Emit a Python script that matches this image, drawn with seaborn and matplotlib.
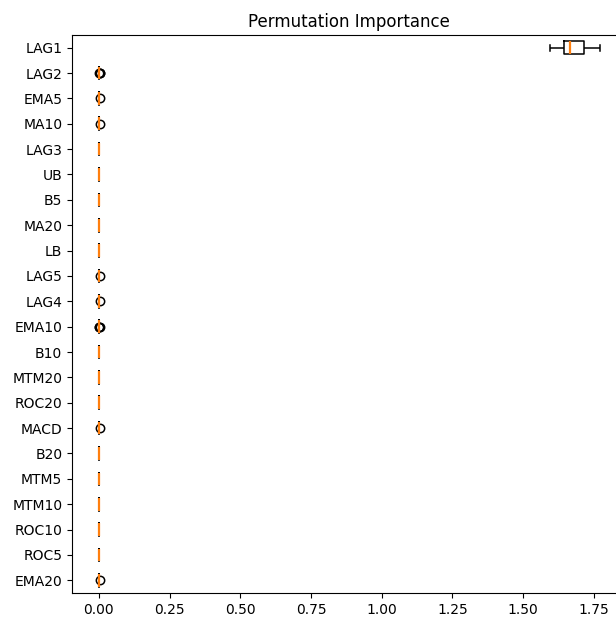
import matplotlib
matplotlib.use("Agg")
import matplotlib.pyplot as plt
import matplotlib.colors as mcolors
import seaborn as sns
import pandas as pd

# Features, ordered from highest to lowest mean importance (top to bottom)
features = ["LAG1", "LAG2", "EMA5", "MA10", "LAG3", "UB", "B5", "MA20", "LB",
            "LAG5", "LAG4", "EMA10", "B10", "MTM20", "ROC20", "MACD", "B20",
            "MTM5", "MTM10", "ROC10", "ROC5", "EMA20"]

# Importance scores of each feature over 10 permutation repeats
repeats = {
    "LAG1":  [1.597, 1.620, 1.640, 1.655, 1.664, 1.670, 1.690, 1.725, 1.740, 1.772],
    "LAG2":  [-0.001, 0.0, 0.0, 0.0, 0.0, 0.0, 0.0, 0.0, 0.003, 0.004],
    "EMA5":  [0.0, 0.0, 0.0, 0.0, 0.0, 0.0, 0.0, 0.0, 0.0, 0.003],
    "MA10":  [0.0, 0.0, 0.0, 0.0, 0.0, 0.0, 0.0, 0.0, 0.0, 0.003],
    "LAG3":  [0.0] * 10,
    "UB":    [0.0] * 10,
    "B5":    [0.0] * 10,
    "MA20":  [0.0] * 10,
    "LB":    [0.0] * 10,
    "LAG5":  [0.0, 0.0, 0.0, 0.0, 0.0, 0.0, 0.0, 0.0, 0.0, 0.003],
    "LAG4":  [0.0, 0.0, 0.0, 0.0, 0.0, 0.0, 0.0, 0.0, 0.0, 0.003],
    "EMA10": [-0.001, 0.0, 0.0, 0.0, 0.0, 0.0, 0.0, 0.0, 0.002, 0.004],
    "B10":   [0.0] * 10,
    "MTM20": [0.0] * 10,
    "ROC20": [0.0] * 10,
    "MACD":  [0.0, 0.0, 0.0, 0.0, 0.0, 0.0, 0.0, 0.0, 0.0, 0.003],
    "B20":   [0.0] * 10,
    "MTM5":  [0.0] * 10,
    "MTM10": [0.0] * 10,
    "ROC10": [0.0] * 10,
    "ROC5":  [0.0] * 10,
    "EMA20": [0.0, 0.0, 0.0, 0.0, 0.0, 0.0, 0.0, 0.0, 0.0, 0.003],
}

x_ticks = [0.00, 0.25, 0.50, 0.75, 1.00, 1.25, 1.50, 1.75]
median_color = "#ff7f0e"

rows = [(f, v) for f in features for v in repeats[f]]
df = pd.DataFrame(rows, columns=["feature", "importance"])

fig = plt.figure(figsize=(6.16, 6.20), dpi=100)
ax = fig.add_axes([72 / 616, 27 / 620, 554 / 616, 558 / 620])

sns.boxplot(
    data=df, x="importance", y="feature", order=features, orient="h",
    fill=False, color="black", width=0.5, linewidth=1.1, whis=1.5,
    medianprops=dict(color=median_color, linewidth=1.6),
    flierprops=dict(marker="o", markerfacecolor="none",
                    markeredgecolor="black", markersize=6, markeredgewidth=1.1),
    ax=ax,
)

# Keep the median lines above the collapsed boxes and caps
target = mcolors.to_rgba(median_color)
for line in ax.lines:
    if mcolors.to_rgba(line.get_color()) == target:
        line.set_zorder(10)
for patch in ax.patches:
    patch.set_zorder(2)

ax.set_xlim(-0.095, 1.864)
ax.set_ylim(21.5, -0.5)
ax.set_xticks(x_ticks)
ax.set_xticklabels([f"{t:.2f}" for t in x_ticks])
ax.set_xlabel("")
ax.set_ylabel("")
ax.set_title("Permutation Importance", fontsize=12)
ax.grid(False)

fig.savefig("out.png", dpi=100)
